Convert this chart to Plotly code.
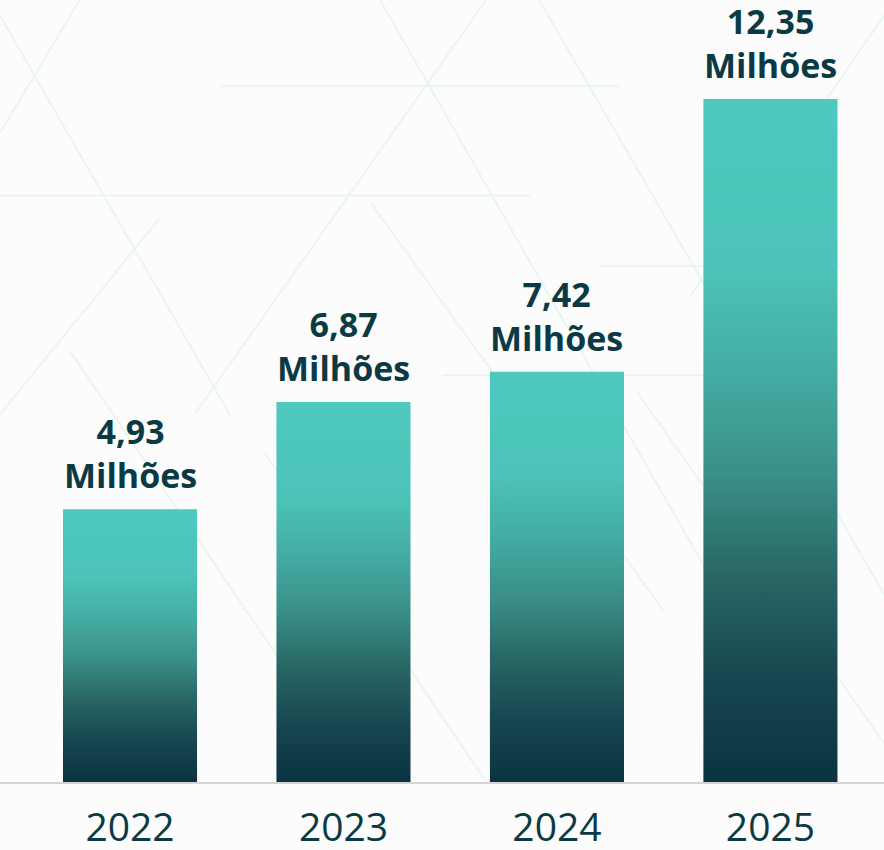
import plotly.graph_objects as go

years = ["2022", "2023", "2024", "2025"]
values = [4.93, 6.87, 7.42, 12.35]
labels = ["4,93<br>Milhões", "6,87<br>Milhões", "7,42<br>Milhões", "12,35<br>Milhões"]

BAR_HALF = 0.314
TEXT = "#0b3a44"
BG = "#fcfcfc"
colorscale = [[0.0, "#0a3340"], [0.15, "#174650"], [0.3, "#286664"], [0.45, "#3a8f88"],
              [0.6, "#44aca3"], [0.75, "#4cc3b8"], [1.0, "#4ec9bd"]]

fig = go.Figure()
for i, v in enumerate(values):
    fig.add_trace(go.Scatter(
        x=[i - BAR_HALF, i + BAR_HALF, i + BAR_HALF, i - BAR_HALF, i - BAR_HALF],
        y=[0, 0, v, v, 0],
        mode="lines", fill="toself",
        line=dict(width=0),
        fillgradient=dict(type="vertical", colorscale=colorscale),
        hoverinfo="skip", showlegend=False,
    ))
    fig.add_annotation(x=i, y=v, text=labels[i], showarrow=False,
                       yanchor="bottom", yshift=9,
                       font=dict(family="Open Sans", size=34, color=TEXT, weight="bold"))

# faint decorative background lattice
deco = "#e8f6f3"
lines = [
    (0.0, 0.98, 0.26, 0.47), (0.09, 1.0, 0.0, 0.83), (0.43, 1.0, 0.85, 0.17),
    (0.61, 1.0, 1.0, 0.24), (0.22, 0.47, 0.55, 1.0), (0.25, 0.89, 0.7, 0.89),
    (0.0, 0.75, 0.6, 0.75), (0.68, 0.66, 0.95, 0.66), (0.78, 0.62, 1.0, 0.98),
    (0.42, 0.74, 0.75, 0.22), (0.0, 0.47, 0.18, 0.72), (0.5, 0.52, 0.92, 0.52),
    (0.08, 0.55, 0.35, 0.1), (0.72, 0.5, 1.0, 0.05), (0.3, 0.42, 0.55, 0.0),
]
for x0, y0, x1, y1 in lines:
    fig.add_shape(type="line", xref="paper", yref="paper", x0=x0, y0=y0, x1=x1, y1=y1,
                  line=dict(color=deco, width=2), layer="below")

fig.update_layout(
    width=884, height=850,
    margin=dict(l=0, r=0, t=0, b=68),
    paper_bgcolor=BG, plot_bgcolor=BG,
    xaxis=dict(range=[-0.609, 3.532], tickvals=list(range(len(years))), ticktext=years,
               showgrid=False, zeroline=False, showline=True, linecolor="#d4d4d4", linewidth=2,
               tickfont=dict(family="Open Sans", size=39, color=TEXT), ticks="",
               ticklabelstandoff=10, automargin=False, fixedrange=True),
    yaxis=dict(range=[0, 14.14], visible=False, automargin=False, fixedrange=True),
)
fig.write_html("out.html", config={"displayModeBar": False},
               post_script="document.body.style.margin='0';document.body.style.overflow='hidden';")
